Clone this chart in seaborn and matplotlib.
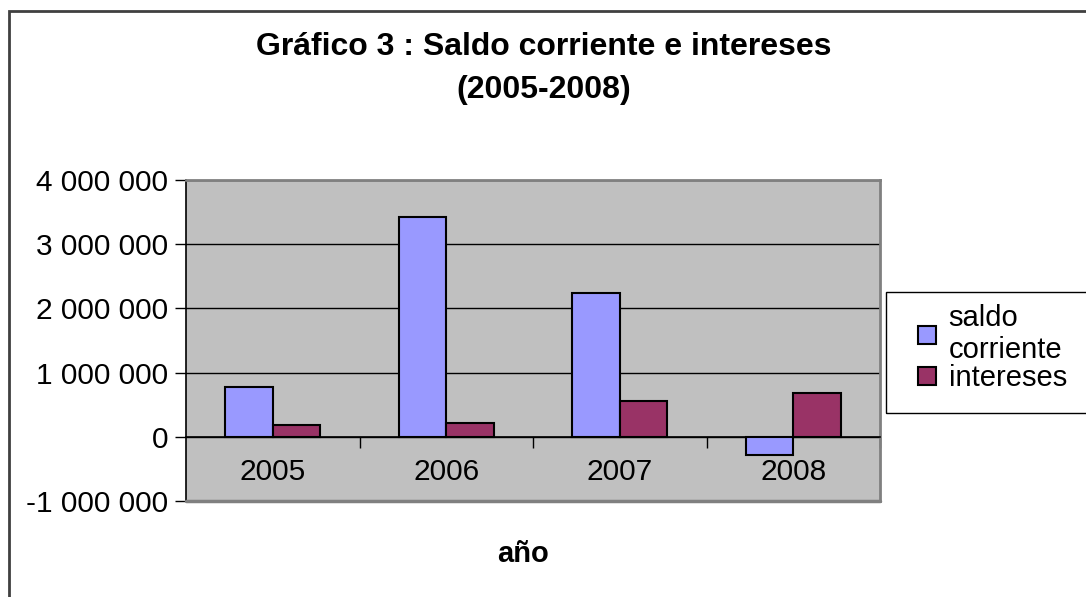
import numpy as np
import pandas as pd
import matplotlib
matplotlib.use('Agg')
import matplotlib.pyplot as plt
from matplotlib.patches import Rectangle
from matplotlib.ticker import FixedLocator, FuncFormatter
import seaborn as sns

# ── datos ────────────────────────────────────────────
years = ['2005', '2006', '2007', '2008']
series = ['saldo\ncorriente', 'intereses']
saldo_corriente = [780000, 3420000, 2240000, -290000]
intereses = [190000, 220000, 565000, 685000]
yticks = [-1000000, 0, 1000000, 2000000, 3000000, 4000000]

df = pd.DataFrame({
    'year': years * 2,
    'serie': [series[0]] * 4 + [series[1]] * 4,
    'valor': saldo_corriente + intereses,
})

sns.set_style('white')
plt.rcParams['font.family'] = ['Liberation Sans', 'DejaVu Sans']
plt.rcParams.update({'text.color': 'black', 'axes.labelcolor': 'black',
                     'xtick.color': 'black', 'ytick.color': 'black'})

fig = plt.figure(figsize=(10.86, 5.97), dpi=100)
ax = fig.add_axes([186/1086, 1 - 501/597, (880 - 186)/1086, (501 - 180)/597])
ax.set_facecolor('#C0C0C0')

sns.barplot(data=df, x='year', y='valor', hue='serie', hue_order=series,
            palette=['#9999FF', '#993366'], width=0.55, edgecolor='black',
            linewidth=1.5, saturation=1, ax=ax, zorder=2)

ax.set_ylim(-1000000, 4000000)
ax.set_xlim(-0.5, 3.5)
ax.set_yticks(yticks)
ax.yaxis.set_major_formatter(FuncFormatter(lambda v, p: f'{v:,.0f}'.replace(',', ' ')))
ax.tick_params(axis='y', left=True, length=8, width=1, color='black',
               labelcolor='black', labelsize=21.5, pad=5)

# eje de categorías en cero
ax.spines['bottom'].set_position(('data', 0))
ax.spines['bottom'].set_color('black')
ax.spines['bottom'].set_linewidth(1.2)
ax.spines['left'].set_color('black')
ax.spines['left'].set_linewidth(1.2)
for s in ['top', 'right']:
    ax.spines[s].set_color('#808080')
    ax.spines[s].set_linewidth(2)
ax.axhline(-1000000, color='#808080', linewidth=2.5, zorder=3, clip_on=False)

ax.xaxis.set_minor_locator(FixedLocator([0.5, 1.5, 2.5, 3.5]))
ax.tick_params(axis='x', which='major', length=0, labelsize=21.5,
               labelcolor='black', pad=15)
ax.tick_params(axis='x', which='minor', bottom=True, direction='out',
               length=8, width=1, color='black')

ax.set_axisbelow(True)
ax.yaxis.grid(True, color='black', linewidth=1)
ax.xaxis.grid(False)

ax.set_ylabel('')
ax.set_xlabel('año', fontsize=21, fontweight='bold', color='black')
ax.xaxis.set_label_coords(0.485, -0.12)

# título
fig.text(544/1086, 1 - 47/597, 'Gráfico 3 : Saldo corriente e intereses',
         ha='center', va='center', fontsize=23, fontweight='bold', color='black')
fig.text(544/1086, 1 - 90/597, '(2005-2008)',
         ha='center', va='center', fontsize=23, fontweight='bold', color='black')

# leyenda
handles, labels = ax.get_legend_handles_labels()
ax.get_legend().remove()
leg = fig.legend(handles, labels, loc='upper left',
                 bbox_to_anchor=(918/1086, 1 - 304/597), frameon=False,
                 borderpad=0, borderaxespad=0, handlelength=0.6, handleheight=0.6,
                 handletextpad=0.45, labelspacing=0.0, fontsize=21)
for t in leg.get_texts():
    t.set_color('black')
fig.add_artist(Rectangle((886/1086, 1 - 413/597), 0.2, (413 - 292)/597,
                         transform=fig.transFigure, fill=False,
                         edgecolor='black', linewidth=1))

# marco del gráfico
fig.add_artist(Rectangle((9/1086, -0.1), 1.2, 1.1 - 11/597,
                         transform=fig.transFigure, fill=False,
                         edgecolor='#404040', linewidth=2))

fig.savefig('out.png', dpi=100)
